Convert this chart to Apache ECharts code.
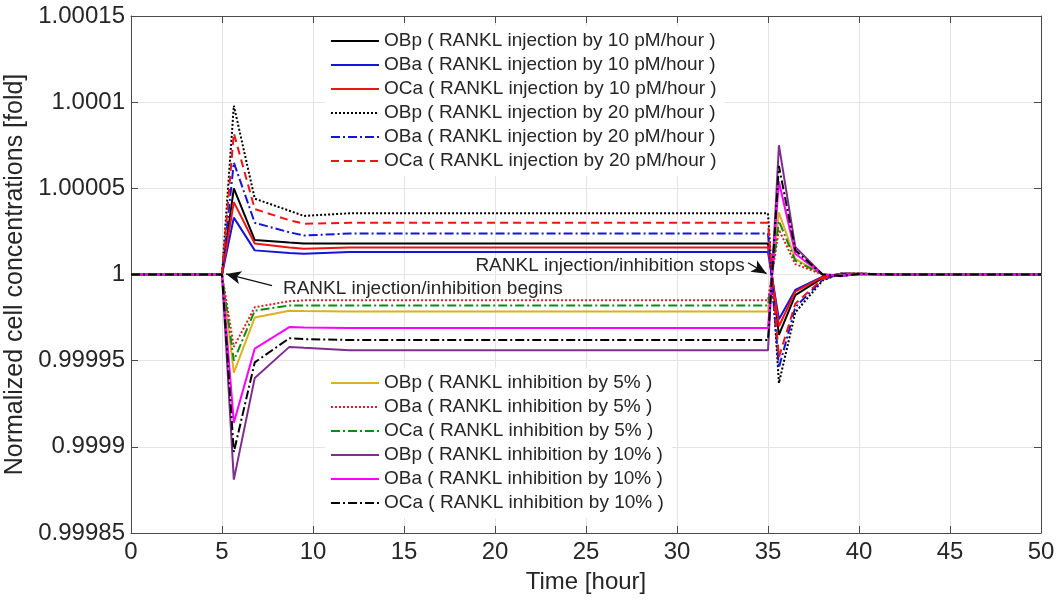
<!DOCTYPE html>
<html>
<head>
<meta charset="utf-8">
<script src="https://cdn.jsdelivr.net/npm/echarts@6/dist/echarts.min.js"></script>
<style>
html,body{margin:0;padding:0;background:#fff;}
#chart{width:1057px;height:607px;}
</style>
</head>
<body>
<div id="chart"></div>
<script>
// ---- data ----
const time = [0, 5, 5.65, 6.8, 8.7, 9.5, 12, 35, 35.6, 36.5, 38, 39, 40, 42, 50];

const obpInj10 = [1, 1, 1.00005, 1.00002, 1.0000185, 1.000018, 1.000018, 1.000018, 0.999965, 0.999988, 0.999998, 1.0000005, 1.0000005, 1, 1];
const obaInj10 = [1, 1, 1.000033, 1.000014, 1.0000125, 1.000012, 1.000013, 1.000013, 0.999974, 0.999991, 0.9999988, 1.0000003, 1.0000003, 1, 1];
const ocaInj10 = [1, 1, 1.000042, 1.000018, 1.0000157, 1.000015, 1.0000157, 1.0000157, 0.99997, 0.99999, 0.9999985, 1.0000004, 1.0000004, 1, 1];
const obpInj20 = [1, 1, 1.000098, 1.000044, 1.000037, 1.000034, 1.0000355, 1.0000355, 0.999937, 0.999978, 0.9999965, 1.0000005, 1.0000005, 1, 1];
const obaInj20 = [1, 1, 1.000065, 1.00003, 1.0000245, 1.0000226, 1.0000238, 1.0000238, 0.999946, 0.999981, 0.999997, 1.0000004, 1.0000004, 1, 1];
const ocaInj20 = [1, 1, 1.000082, 1.000038, 1.0000315, 1.0000295, 1.00003, 1.00003, 0.999952, 0.999983, 0.9999975, 1.0000004, 1.0000004, 1, 1];

const obpInh5 = [1, 1, 0.999943, 0.999975, 0.999979, 0.9999788, 0.9999785, 0.9999785, 1.000036, 1.000009, 1, 0.9999995, 1.0000002, 1, 1];
const obaInh5 = [1, 1, 0.999958, 0.999981, 0.9999845, 0.999985, 0.999985, 0.999985, 1.000026, 1.000006, 1, 0.9999996, 1.0000002, 1, 1];
const ocaInh5 = [1, 1, 0.99995, 0.999979, 0.999982, 0.999982, 0.999982, 0.999982, 1.000031, 1.000008, 1, 0.9999996, 1.0000002, 1, 1];
const obpInh10 = [1, 1, 0.999881, 0.99994, 0.999958, 0.9999575, 0.999956, 0.999956, 1.000075, 1.000016, 1, 0.999999, 1.0000003, 1, 1];
const obaInh10 = [1, 1, 0.999914, 0.999957, 0.9999695, 0.9999693, 0.999969, 0.999969, 1.000054, 1.000012, 1, 0.9999993, 1.0000003, 1, 1];
const ocaInh10 = [1, 1, 0.999897, 0.999949, 0.999963, 0.9999625, 0.999962, 0.999962, 1.000063, 1.000014, 1, 0.9999992, 1.0000003, 1, 1];

const injNames = [
  'OBp ( RANKL injection by 10 pM/hour )',
  'OBa ( RANKL injection by 10 pM/hour )',
  'OCa ( RANKL injection by 10 pM/hour )',
  'OBp ( RANKL injection by 20 pM/hour )',
  'OBa ( RANKL injection by 20 pM/hour )',
  'OCa ( RANKL injection by 20 pM/hour )'
];
const inhNames = [
  'OBp ( RANKL inhibition by 5% )',
  'OBa ( RANKL inhibition by 5% )',
  'OCa ( RANKL inhibition by 5% )',
  'OBp ( RANKL inhibition by 10% )',
  'OBa ( RANKL inhibition by 10% )',
  'OCa ( RANKL inhibition by 10% )'
];

const xTicks = {min: 0, max: 50, step: 5};
const yTicks = {min: 0.99985, max: 1.00015, step: 0.00005};

// annotations (data coordinates): text anchor, arrow tail, arrow tip
const annBegin = {text: 'RANKL injection/inhibition begins', at: [8.35, 0.9999919], tail: [7.75, 0.9999936], tip: [5.22, 1.0000003]};
const annStop = {text: 'RANKL injection/inhibition stops', at: [33.72, 1.0000051], tail: [33.9, 1.0000068], tip: [34.92, 1.0000005]};

// ---- styles ----
const FONT = '"Liberation Sans", Arial, Helvetica, sans-serif';
const dashDot = [9, 3, 2, 3];
const seriesDefs = [
  {name: injNames[0], data: obpInj10, color: '#000000', type: 'solid'},
  {name: injNames[1], data: obaInj10, color: '#1414dc', type: 'solid'},
  {name: injNames[2], data: ocaInj10, color: '#ee1414', type: 'solid'},
  {name: injNames[3], data: obpInj20, color: '#000000', type: 'dotted'},
  {name: injNames[4], data: obaInj20, color: '#1414dc', type: dashDot},
  {name: injNames[5], data: ocaInj20, color: '#ee1414', type: [8, 5]},
  {name: inhNames[0], data: obpInh5, color: '#dcb020', type: 'solid'},
  {name: inhNames[1], data: obaInh5, color: '#e02020', type: 'dotted'},
  {name: inhNames[2], data: ocaInh5, color: '#108a10', type: dashDot},
  {name: inhNames[3], data: obpInh10, color: '#7e2f8e', type: 'solid'},
  {name: inhNames[4], data: obaInh10, color: '#ff00ff', type: 'solid'},
  {name: inhNames[5], data: ocaInh10, color: '#000000', type: dashDot}
];

const chart = echarts.init(document.getElementById('chart'), null, {renderer: 'canvas'});

const axisColor = '#4a4a4a';
const gridColor = '#e4e4e4';

const series = seriesDefs.map(function (s) {
  return {
    name: s.name,
    type: 'line',
    data: time.map(function (t, i) { return [t, s.data[i]]; }),
    symbol: 'none',
    lineStyle: {color: s.color, width: 2, type: s.type},
    itemStyle: {color: s.color},
    animation: false
  };
});

series.push({
  name: '_annot',
  type: 'line',
  data: [],
  symbol: 'none',
  silent: true,
  animation: false,
  markLine: {
    silent: true,
    animation: false,
    symbol: ['none', 'arrow'],
    symbolSize: [10, 15],
    label: {show: false},
    lineStyle: {color: '#111', width: 1.3, type: 'solid'},
    data: [
      [{coord: annBegin.tail}, {coord: annBegin.tip}],
      [{coord: annStop.tail}, {coord: annStop.tip}]
    ]
  }
});

const legendCommon = {
  orient: 'vertical',
  itemWidth: 48,
  itemHeight: 14,
  itemGap: 4,
  padding: [5, 8, 5, 5],
  backgroundColor: '#ffffff',
  borderWidth: 0,
  selectedMode: false,
  itemStyle: {opacity: 0},
  textStyle: {fontFamily: FONT, fontSize: 19, color: '#262626', lineHeight: 20}
};

const option = {
  backgroundColor: '#ffffff',
  animation: false,
  grid: {left: 131, right: 16, top: 16, bottom: 74, containLabel: false, outerBoundsMode: 'none'},
  legend: [
    Object.assign({}, legendCommon, {data: injNames, left: 325, top: 26}),
    Object.assign({}, legendCommon, {data: inhNames, left: 325, top: 368})
  ],
  xAxis: [
    {
      type: 'value', position: 'bottom',
      min: xTicks.min, max: xTicks.max, interval: xTicks.step,
      axisLine: {show: true, onZero: false, lineStyle: {color: axisColor, width: 1}},
      axisTick: {show: true, inside: true, length: 7, lineStyle: {color: axisColor}},
      axisLabel: {color: '#262626', fontSize: 24, fontFamily: FONT, margin: 7},
      splitLine: {show: true, lineStyle: {color: gridColor, width: 1}},
      name: 'Time [hour]', nameLocation: 'middle', nameGap: 37,
      nameTextStyle: {color: '#262626', fontSize: 24, fontFamily: FONT}
    },
    {
      type: 'value', position: 'top',
      min: xTicks.min, max: xTicks.max, interval: xTicks.step,
      axisLine: {show: true, onZero: false, lineStyle: {color: axisColor, width: 1}},
      axisTick: {show: true, inside: true, length: 7, lineStyle: {color: axisColor}},
      axisLabel: {show: false},
      splitLine: {show: false}
    }
  ],
  yAxis: [
    {
      type: 'value', position: 'left',
      min: yTicks.min, max: yTicks.max, interval: yTicks.step,
      axisLine: {show: true, onZero: false, lineStyle: {color: axisColor, width: 1}},
      axisTick: {show: true, inside: true, length: 7, lineStyle: {color: axisColor}},
      axisLabel: {
        color: '#262626', fontSize: 24, fontFamily: FONT, margin: 6,
        formatter: function (v) { return String(parseFloat(v.toFixed(5))); }
      },
      splitLine: {show: true, lineStyle: {color: gridColor, width: 1}},
      name: 'Normalized cell concentrations [fold]', nameLocation: 'middle', nameGap: 94,
      nameTextStyle: {color: '#262626', fontSize: 25, fontFamily: FONT}
    },
    {
      type: 'value', position: 'right',
      min: yTicks.min, max: yTicks.max, interval: yTicks.step,
      axisLine: {show: true, onZero: false, lineStyle: {color: axisColor, width: 1}},
      axisTick: {show: true, inside: true, length: 7, lineStyle: {color: axisColor}},
      axisLabel: {show: false},
      splitLine: {show: false}
    }
  ],
  series: series
};

chart.setOption(option);

// annotation texts placed through the chart's own scales
const pBegin = chart.convertToPixel({gridIndex: 0}, annBegin.at);
const pStop = chart.convertToPixel({gridIndex: 0}, annStop.at);
chart.setOption({
  graphic: [
    {type: 'text', x: pBegin[0], y: pBegin[1], z: 100, silent: true,
     style: {text: annBegin.text, fill: '#262626', font: '19px ' + FONT, textAlign: 'left', textVerticalAlign: 'middle'}},
    {type: 'text', x: pStop[0], y: pStop[1], z: 100, silent: true,
     style: {text: annStop.text, fill: '#262626', font: '19px ' + FONT, textAlign: 'right', textVerticalAlign: 'middle'}}
  ]
});
</script>
</body>
</html>
